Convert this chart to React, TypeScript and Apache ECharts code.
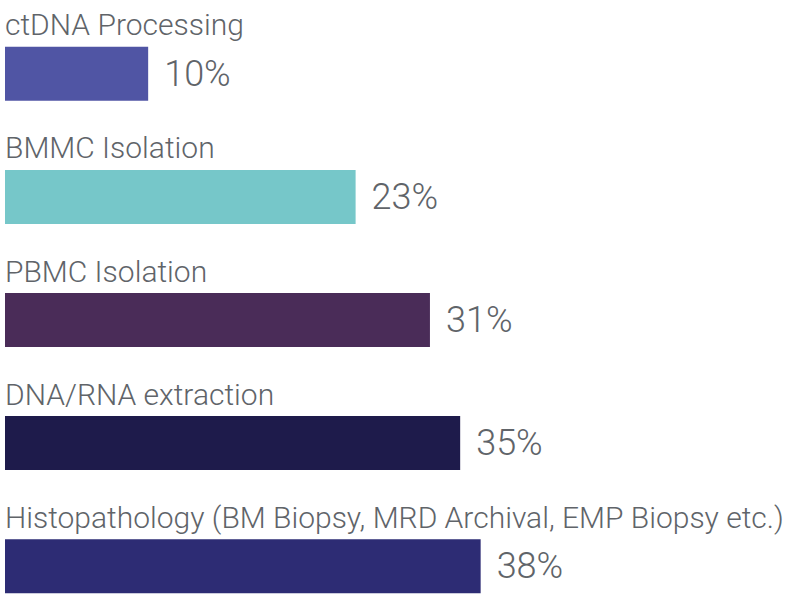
import React, { useEffect, useRef } from "react";
import * as echarts from "echarts";

const categories = [
  "ctDNA Processing",
  "BMMC Isolation",
  "PBMC Isolation",
  "DNA/RNA extraction",
  "Histopathology (BM Biopsy, MRD Archival, EMP Biopsy etc.)",
];
const values = [10, 23, 31, 35, 38];
const colors = ["#5055A4", "#76C7C9", "#4A2C58", "#1E1B4B", "#2D2C74"];

export default function App() {
  const ref = useRef<HTMLDivElement>(null);
  useEffect(() => {
    if (!ref.current) return;
    const chart = echarts.init(ref.current, undefined, { renderer: "svg" });
    chart.setOption({
      animation: false,
      grid: {
        left: 5,
        top: 12.2,
        right: 5,
        bottom: -33.8,
        containLabel: false,
        outerBoundsMode: "none",
      },
      xAxis: {
        type: "log",
        min: 5.628,
        max: 128.97,
        show: false,
      },
      yAxis: {
        type: "category",
        inverse: true,
        data: categories,
        axisLine: { show: false },
        axisTick: { show: false },
        splitLine: { show: false },
        axisLabel: {
          inside: true,
          margin: 0,
          align: "left",
          verticalAlign: "bottom",
          lineHeight: 98,
          fontFamily: "Roboto",
          fontWeight: 300,
          fontSize: 30,
          color: "#606469",
        },
        z: 5,
      },
      series: [
        {
          type: "bar",
          clip: true,
          barWidth: 54,
          data: values.map((v, i) => ({ value: v, itemStyle: { color: colors[i] } })),
          label: {
            show: true,
            position: "right",
            distance: 16,
            formatter: "{c}%",
            fontFamily: "Roboto",
            fontWeight: 300,
            fontSize: 36,
            color: "#606469",
          },
        },
      ],
    });
    return () => chart.dispose();
  }, []);
  return (
    <div
      ref={ref}
      style={{ position: "absolute", left: 0, top: 0, width: 790, height: 594 }}
    />
  );
}
